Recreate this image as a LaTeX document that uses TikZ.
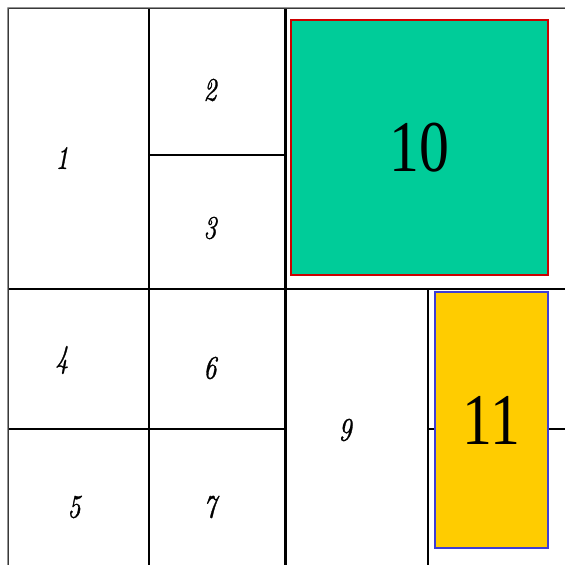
\documentclass[tikz,border=0pt]{standalone}
\usepackage{fontspec}
\usepackage{tikz}
\usetikzlibrary{positioning}
\newfontfamily\bignumfont{Liberation Serif}
\newfontfamily\labelfont{Latin Modern Roman}[FakeBold=1.2]
\definecolor{boxgreen}{HTML}{00CC99}
\definecolor{boxyellow}{HTML}{FFCC00}
\definecolor{boxred}{HTML}{CC0000}
\definecolor{boxblue}{HTML}{3D3DD6}

\begin{document}
\begin{tikzpicture}
    \tikzstyle{cell} = [
        rectangle, draw, line width=0.6pt, inner sep=0pt, anchor=north west
    ]

    \tikzstyle{num} = [
        font=\labelfont\fontsize{10}{10}\selectfont\itshape, inner sep=0pt
    ]

    \tikzstyle{divider} = [line width=1.6pt]

    \tikzstyle{frame} = [draw=black!65, line width=0.8pt]

    \tikzstyle{block} = [
        rectangle, line width=0.6pt, inner sep=0pt,
        font=\bignumfont\fontsize{34}{34}\selectfont
    ]

    \useasboundingbox (0,0) rectangle (11.3,-11.28);
    \clip (0,0) rectangle (11.3,-11.28);

    % Upper left
    \node[cell, minimum width=2.8cm, minimum height=5.6cm] (c1) at (0.16,-0.16) {};
    \node[cell, minimum width=2.7cm, minimum height=2.92cm] (c2) at (c1.north east) {};
    \node[cell, minimum width=2.7cm, minimum height=2.68cm] (c3) at (c2.south west) {};

    % Upper right
    \node[cell, minimum width=5.6cm, minimum height=5.6cm] (c8) at (c2.north east) {};

    % Lower left
    \node[cell, minimum width=2.8cm, minimum height=2.78cm] (c4) at (c1.south west) {};
    \node[cell, minimum width=2.8cm, minimum height=3cm] (c5) at (c4.south west) {};
    \node[cell, minimum width=2.7cm, minimum height=2.78cm] (c6) at (c4.north east) {};
    \node[cell, minimum width=2.7cm, minimum height=3cm] (c7) at (c6.south west) {};

    % Lower right
    \node[cell, minimum width=2.84cm, minimum height=5.8cm] (c9) at (c6.north east) {};
    \node[cell, minimum width=2.76cm, minimum height=2.78cm] (r_top) at (c9.north east) {};
    \node[cell, minimum width=2.76cm, minimum height=3cm] (r_bot) at (r_top.south west) {};

    % Dividers and frame
    \draw[divider] (c2.north east) -- (c7.south east);
    \draw[divider] (c1.south west) -- (c8.south east);
    \draw[frame] (c5.south west) -- (c1.north west) -- (c8.north east) -- (r_bot.south east);

    % Labels
    \node[num] (n1) at (1.24,-3.16) {\scalebox{1.45}[1.85]{1}};
    \node[num] (n2) at (4.2,-1.8) {\scalebox{1.45}[1.85]{2}};
    \node[num] (n3) at (4.2,-4.56) {\scalebox{1.45}[1.85]{3}};
    \node[num] (n4) at (1.24,-7.2) {\scalebox{1.45}[1.85]{4}};
    \node[num] (n5) at (1.48,-10.14) {\scalebox{1.45}[1.85]{5}};
    \node[num] (n6) at (4.2,-7.36) {\scalebox{1.45}[1.85]{6}};
    \node[num] (n7) at (4.2,-10.14) {\scalebox{1.45}[1.85]{7}};
    \node[num] (n9) at (6.9,-8.6) {\scalebox{1.45}[1.85]{9}};

    % Coloured blocks
    \node[block, fill=boxgreen, draw=boxred,
          minimum width=5.14cm, minimum height=5.1cm] (b10) at (8.39,-2.95)
        {\scalebox{1}[1.22]{10}};
    \node[block, fill=boxyellow, draw=boxblue,
          minimum width=2.26cm, minimum height=5.12cm] (b11) at (9.83,-8.4)
        {\scalebox{1}[1.22]{11}};

\end{tikzpicture}
\end{document}
